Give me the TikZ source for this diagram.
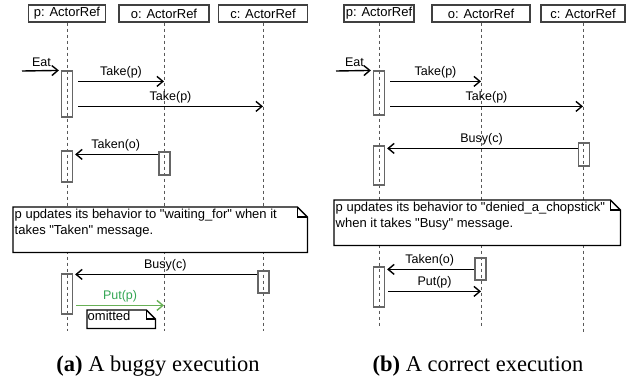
\documentclass[tikz,border=0pt]{standalone}
\usepackage{fontspec}
\newfontfamily\diagfont{Liberation Sans}
\newfontfamily\capfont{Liberation Serif}
\usepackage{xcolor}
\usepackage{tikz}
\usetikzlibrary{arrows.meta,positioning,calc}

\definecolor{putgreen}{RGB}{104,176,86}
\definecolor{putlabel}{RGB}{52,166,84}

\begin{document}
\begin{tikzpicture}[x=1pt,y=-1pt,
    font=\diagfont\fontsize{12.5}{14}\selectfont,
    head/.style={draw=black!75, line width=1.2pt, minimum height=17pt, inner sep=0pt,
      font=\diagfont\fontsize{13}{15}\selectfont},
    life/.style={draw=black!65, line width=1pt, dash pattern=on 3pt off 3pt},
    act/.style={draw=black!60, line width=1.2pt, minimum width=11pt, inner sep=0pt},
    msg/.style={draw=black, line width=1.4pt, -{Straight Barb[length=6pt,width=10pt]}},
    lbl/.style={above, inner sep=3pt},
    notebox/.style={fill=white, inner sep=0pt},
    noteline/.style={draw=black, line width=1.3pt, line join=miter},
    notetext/.style={anchor=north west, inner sep=1.5pt, align=left,
      font=\diagfont\fontsize{13}{16.5}\selectfont},
    caption/.style={font=\capfont\fontsize{22.5}{26}\selectfont}
  ]
  \useasboundingbox (0,0) rectangle (628,381);

  % ---------- (a) buggy execution ----------
  % Heads
  \node[head, minimum width=77pt] (pL) at (67,13.5) {p: ActorRef};
  \node[head, minimum width=90pt] (oL) at (164,13.5) {o: ActorRef};
  \node[head, minimum width=89pt] (cL) at (263,13.5) {c: ActorRef};

  % Lifelines
  \draw[life] (pL.south) -- ++(0,308);
  \draw[life] (oL.south) -- ++(0,308);
  \draw[life] (cL.south) -- ++(0,308);

  % Activations
  \node[act, minimum height=46pt] (pa1) at (67,94) {};
  \node[act, minimum height=31pt] (pa2) at (67,166.5) {};
  \node[act, minimum height=23pt] (oa1) at (164.5,163.5) {};
  \node[act, minimum height=22pt] (ca1) at (263.5,282) {};
  \node[act, minimum height=40pt] (pa3) at (67,294) {};

  % Messages
  \coordinate (eatL) at (22,71);
  \draw[msg, shorten >=2pt] (eatL) -- (pa1.north west) node[lbl, midway] {Eat};
  \coordinate (t1L) at ([xshift=5pt,yshift=-11pt]pa1.north east);
  \draw[msg] (t1L) -- (t1L -| oL.south) node[lbl, midway] {Take(p)};
  \coordinate (t2L) at ([xshift=5pt,yshift=-36pt]pa1.north east);
  \draw[msg] (t2L) -- (t2L -| cL.south) node[lbl, midway] {Take(p)};
  \coordinate (tkL) at ([yshift=-3pt]oa1.north west);
  \draw[msg, shorten >=2pt] (tkL) -- (tkL -| pa2.east) node[lbl, midway] {Taken(o)};
  \coordinate (bsL) at ([yshift=-4pt]ca1.north west);
  \draw[msg, shorten >=2pt] (bsL) -- (bsL -| pa3.east) node[lbl, midway] {Busy(c)};
  \coordinate (ptL) at ([xshift=3pt,yshift=-32pt]pa3.north east);
  \draw[msg, draw=putgreen] (ptL) -- (ptL -| oL.south)
    node[lbl, midway, text=putlabel] {Put(p)};

  % Notes
  \node[notebox, minimum width=294pt, minimum height=45pt, anchor=north west] (nL) at (13,207) {};
  \draw[noteline] (nL.south west) -- (nL.north west) -- ([xshift=-10pt]nL.north east)
    -- ([yshift=-10pt]nL.north east) -- (nL.south east) -- cycle;
  \draw[noteline] ([xshift=-10pt]nL.north east) |- ([yshift=-10pt]nL.north east);
  \node[notetext] at (nL.north west) {p updates its behavior to "waiting\_for" when it\\takes "Taken" message.};

  \node[notebox, minimum width=68pt, minimum height=18pt, anchor=north west] (omL) at (87,310) {};
  \draw[noteline] (omL.south west) -- (omL.north west) -- ([xshift=-9pt]omL.north east)
    -- ([yshift=-9pt]omL.north east) -- (omL.south east) -- cycle;
  \draw[noteline] ([xshift=-9pt]omL.north east) |- ([yshift=-9pt]omL.north east);
  \node[notetext, inner sep=0.5pt] at (omL.north west) {omitted};

  \node[caption] (capL) at (158,366) {\textbf{(a)} A buggy execution};

  % ---------- (b) correct execution ----------
  % Heads
  \node[head, minimum width=70pt] (pR) at (379,13.5) {p: ActorRef};
  \node[head, minimum width=98pt] (oR) at (481,13.5) {o: ActorRef};
  \node[head, minimum width=84pt] (cR) at (583,13.5) {c: ActorRef};

  % Lifelines
  \draw[life] (pR.south) -- ++(0,305);
  \draw[life] (oR.south) -- ++(0,305);
  \draw[life] (cR.south) -- ++(0,310);

  % Activations
  \node[act, minimum height=44pt] (pb1) at (379,93) {};
  \node[act, minimum height=39pt] (pb2) at (379,165.5) {};
  \node[act, minimum height=23pt] (cb1) at (584,154.5) {};
  \node[act, minimum height=22pt] (ob1) at (480.5,269) {};
  \node[act, minimum height=40pt] (pb3) at (379,287) {};

  % Messages
  \coordinate (eatR) at (336,71);
  \draw[msg, shorten >=2pt] (eatR) -- (pb1.north west) node[lbl, midway] {Eat};
  \coordinate (t1R) at ([xshift=5pt,yshift=-11pt]pb1.north east);
  \draw[msg] (t1R) -- (t1R -| oR.south) node[lbl, midway] {Take(p)};
  \coordinate (t2R) at ([xshift=5pt,yshift=-36pt]pb1.north east);
  \draw[msg] (t2R) -- (t2R -| cR.south) node[lbl, midway] {Take(p)};
  \coordinate (bsR) at ([yshift=-6pt]cb1.north west);
  \draw[msg, shorten >=2pt] (bsR) -- (bsR -| pb2.east) node[lbl, midway] {Busy(c)};
  \coordinate (tkR) at ([yshift=-12pt]ob1.north west);
  \draw[msg, shorten >=2pt] (tkR) -- (tkR -| pb3.east) node[lbl, midway] {Taken(o)};
  \coordinate (ptR) at ([xshift=3pt,yshift=-25pt]pb3.north east);
  \draw[msg] (ptR) -- (ptR -| oR.south) node[lbl, midway] {Put(p)};

  % Note
  \node[notebox, minimum width=286pt, minimum height=45pt, anchor=north west] (nR) at (334,200) {};
  \draw[noteline] (nR.south west) -- (nR.north west) -- ([xshift=-10pt]nR.north east)
    -- ([yshift=-10pt]nR.north east) -- (nR.south east) -- cycle;
  \draw[noteline] ([xshift=-10pt]nR.north east) |- ([yshift=-10pt]nR.north east);
  \node[notetext] at (nR.north west) {p updates its behavior to "denied\_a\_chopstick"\\when it takes "Busy" message.};

  \node[caption] (capR) at (478,366) {\textbf{(b)} A correct execution};
\end{tikzpicture}
\end{document}
